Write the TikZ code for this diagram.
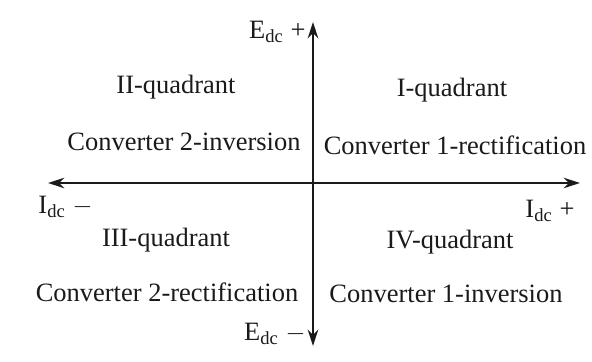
\documentclass[tikz,border=0pt]{standalone}
\usepackage{fontspec}
\setmainfont{Liberation Serif}
\usetikzlibrary{arrows.meta,positioning}
\definecolor{Ink}{HTML}{1A1A1A}

\begin{document}
\begin{tikzpicture}[x=0.015cm,y=-0.015cm,
    axis/.style={line width=0.8pt,Ink,-{Stealth[length=7pt,width=4.5pt]}},
    qtext/.style={font=\fontsize{11.3}{13}\selectfont,text=Ink,inner sep=0pt},
    albl/.style={font=\fontsize{11.3}{13}\selectfont,text=Ink,inner sep=0pt}]
    \useasboundingbox (0,0) rectangle (592,362);
    % axes
    \coordinate (o) at (313,183);
    \coordinate (top) at (313,22);
    \coordinate (bot) at (313,346);
    \coordinate (lft) at (48,183);
    \coordinate (rgt) at (580,183);
    \draw[axis] (o)--(top);
    \draw[axis] (o)--(bot);
    \draw[axis] (o)--(lft);
    \draw[axis] (o)--(rgt);
    % axis labels
    \node[albl,anchor=east] (eplus) at (306,32) {E$_{\mathrm{dc}}$ +};
    \node[albl,anchor=east] (eminus) at (306,334) {E$_{\mathrm{dc}}$ $-$};
    \node[albl,anchor=west] (iminus) at (38,207) {I$_{\mathrm{dc}}$ $-$};
    \node[albl,anchor=west] (iplus) at (525,211) {I$_{\mathrm{dc}}$ +};
    % quadrants
    \node[qtext] (q2) at (176,87) {II-quadrant};
    \node[qtext] (c2i) at (184,142) {Converter 2-inversion};
    \node[qtext] (q1) at (452,90) {I-quadrant};
    \node[qtext] (c1r) at (455,145) {Converter 1-rectification};
    \node[qtext] (q3) at (166,240) {III-quadrant};
    \node[qtext] (c2r) at (167,292) {Converter 2-rectification};
    \node[qtext] (q4) at (450,242) {IV-quadrant};
    \node[qtext] (c1i) at (446,294) {Converter 1-inversion};
  \end{tikzpicture}
\end{document}
